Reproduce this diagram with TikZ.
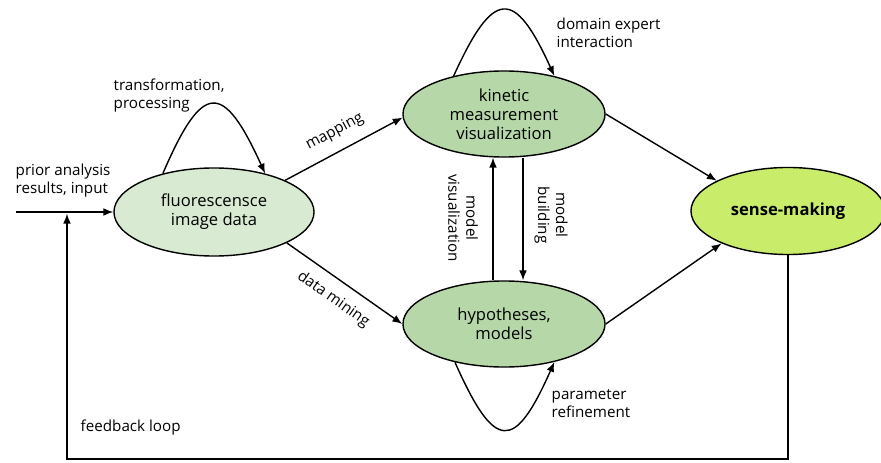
\documentclass[tikz,border=0pt]{standalone}
\usepackage{fontspec}
\setmainfont{Open Sans}
\usepackage{tikz}
\usetikzlibrary{shapes.geometric}
\usetikzlibrary{arrows.meta}

\definecolor{fluorfill}{RGB}{217,234,211}
\definecolor{stagefill}{RGB}{182,215,168}
\definecolor{sensefill}{RGB}{201,237,106}

\begin{document}
\begin{tikzpicture}[x=0.025cm, y=0.025cm, line width=1pt, >={Latex[length=7pt,width=5.5pt]},
        stage/.style={ellipse, draw, fill=stagefill, inner sep=0pt, align=center,
            minimum width=5.05cm, minimum height=2.15cm, font=\fontsize{11.8}{13.5}\selectfont},
        lbl/.style={align=left, inner sep=0pt, font=\fontsize{10.8}{12.8}\selectfont},
        edgelbl/.style={sloped, inner sep=8pt, font=\fontsize{10.8}{12.8}\selectfont}]

        \useasboundingbox (0,0) rectangle (881,462);

        % stages
        \node[stage, fill=fluorfill, minimum width=5cm, minimum height=2.2cm] (fluor) at (214,250) {fluorescensce\\image data};
        \node[stage] (kin) at (504,348) {kinetic\\measurement\\visualization};
        \node[stage] (hyp) at (504,138) {hypotheses,\\models};
        \node[stage, fill=sensefill, minimum width=4.85cm, minimum height=2.175cm] (sense) at (788,251) {\bfseries sense-making};

        % input and feedback
        \coordinate (in) at (16,250);
        \coordinate (fb) at (67,3);
        \draw[->] (in) -- (fluor.west);
        \draw[->, shorten >=1.2pt] (sense.south) |- (fb) -- (fb |- in);
        \node[lbl, anchor=west] (inlbl) at (15,281) {prior analysis\\results, input};
        \node[lbl, anchor=west] (fblbl) at (80,34) {feedback loop};

        % self loops
        \draw[->] (fluor.143) .. controls +(40,93) and +(-42,92) .. (fluor.37);
        \node[lbl, anchor=west] (translbl) at (113,366) {transformation,\\processing};
        \draw[->] (kin.143) .. controls +(40,88) and +(-40,88) .. (kin.37);
        \node[lbl, anchor=west] (domlbl) at (556,429) {domain expert\\interaction};
        \draw[->] (hyp.-142) .. controls +(40,-90) and +(-40,-90) .. (hyp.-37);
        \node[lbl, anchor=west] (parlbl) at (551,58) {parameter\\refinement};

        % main flow
        \draw[->] (fluor.24) -- (kin.182) node[edgelbl, above, pos=0.5]{mapping};
        \draw[->] (fluor.-23) -- (hyp.west) node[edgelbl, below, pos=0.5]{data mining};
        \draw[->] (kin.east) -- (sense.157);
        \draw[->] (hyp.east) -- (sense.206);

        % model arrows
        \draw[->] ([xshift=-0.275cm]hyp.north) -- ([xshift=-0.275cm]kin.south);
        \draw[->] ([xshift=0.475cm]kin.south) -- ([xshift=0.475cm]hyp.north);
        \node[lbl, align=center, rotate=-90] (vislbl) at (463,244) {model\\visualization};
        \node[lbl, align=center, rotate=-90] (buildlbl) at (551,247) {model\\building};

    \end{tikzpicture}
\end{document}
